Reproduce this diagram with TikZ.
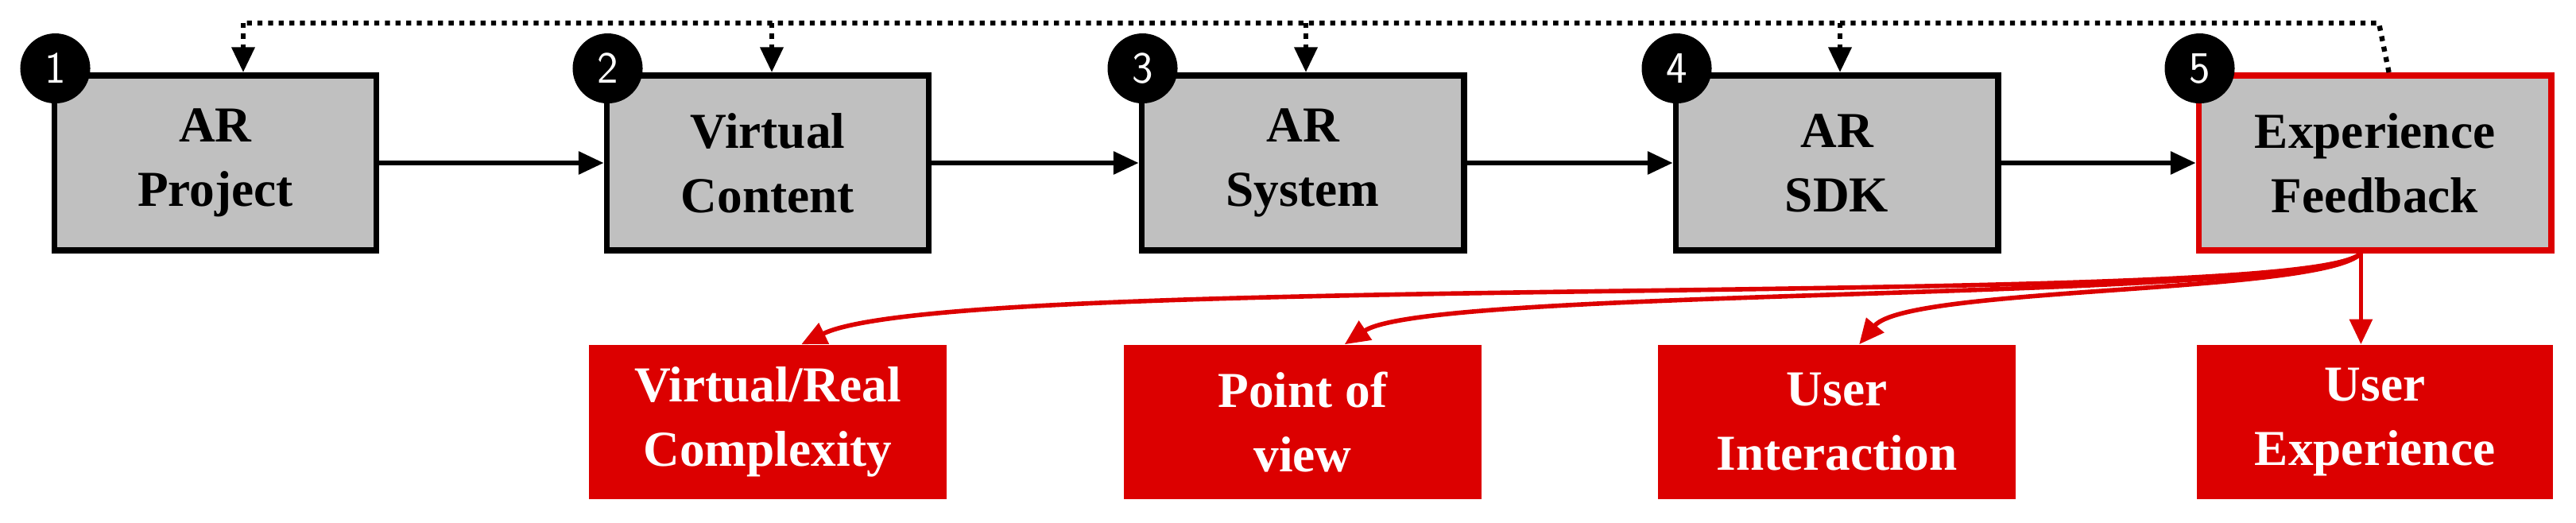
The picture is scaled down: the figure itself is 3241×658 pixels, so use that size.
\documentclass[tikz,border=0pt]{standalone}
\usepackage{fontspec}
\setmainfont{Liberation Serif}
\usetikzlibrary{arrows.meta}
\definecolor{rd}{RGB}{220,0,0}
\definecolor{gb}{RGB}{192,192,192}
\begin{document}
\begin{tikzpicture}[x=0.01cm,y=-0.01cm,
  gbox/.style={draw=black,line width=2.2pt,fill=gb,minimum width=4.05cm,minimum height=2.2cm,align=center,font=\fontsize{18}{23}\selectfont\bfseries,inner sep=0pt},
  rbox/.style={fill=rd,text=white,minimum width=4.5cm,minimum height=1.94cm,align=center,font=\fontsize{18}{23}\selectfont\bfseries,inner sep=0pt},
  num/.style={circle,fill=black,text=white,minimum size=0.88cm,inner sep=0pt,font=\fontsize{16}{18}\selectfont\sffamily},
  arr/.style={line width=1.6pt,-{Triangle[length=9pt,width=8pt]}},
  dots/.style={line width=1.8pt,dotted,-{Triangle[length=9pt,width=8pt]}},
  rarr/.style={rd,line width=1.6pt,-{Triangle[length=9pt,width=8pt]}}]
\useasboundingbox (0,0) rectangle (3241,658);
\node[gbox] (b1) at (271,205) {AR\\Project};
\node[gbox] (b2) at (966,205) {Virtual\\Content};
\node[gbox] (b3) at (1639,205) {AR\\System};
\node[gbox] (b4) at (2311,205) {AR\\SDK};
\node[gbox,draw=rd,minimum width=4.43cm] (b5) at (2988,205) {Experience\\Feedback};
\foreach \i in {1,...,5}{\node[num] (n\i) at ([shift={(5,-5)}]b\i.north west) {\i};}
\node[rbox] (r1) at (966,531) {Virtual/Real\\Complexity};
\node[rbox] (r2) at (1639,531) {Point of\\view};
\node[rbox] (r3) at (2311,531) {User\\Interaction};
\node[rbox,minimum width=4.48cm] (r4) at (2988,531) {User\\Experience};
\draw[arr] (b1) -- (b2);
\draw[arr] (b2) -- (b3);
\draw[arr] (b3) -- (b4);
\draw[arr] (b4) -- (b5);
\coordinate (top) at (2993,29);
\draw[line width=1.8pt,dotted] ([xshift=5]b5.north) -- (top) -- (306,29);
\draw[dots] (306,29) -- (b1.north -| 306,0);
\draw[dots] (971,29) -- (b2.north -| 971,0);
\draw[dots] (1643,29) -- (b3.north -| 1643,0);
\draw[dots] (2315,29) -- (b4.north -| 2315,0);
\coordinate (src) at ([xshift=-5]b5.south);
\draw[rarr] (src) .. controls (2900,390) and (1200,340) .. ([xshift=12]r1.north);
\draw[rarr] (src) .. controls (2900,380) and (1800,360) .. ([xshift=15]r2.north);
\draw[rarr] (src) .. controls (2920,370) and (2400,360) .. ([xshift=8]r3.north);
\draw[rarr] (src) -- (src |- r4.north);
\end{tikzpicture}
\end{document}
